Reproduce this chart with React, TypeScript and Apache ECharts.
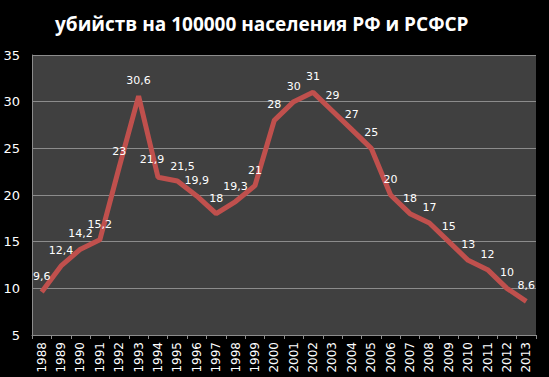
import React, { useEffect, useRef } from "react";
import * as echarts from "echarts";

const years = [
  "1988", "1989", "1990", "1991", "1992", "1993", "1994", "1995", "1996", "1997",
  "1998", "1999", "2000", "2001", "2002", "2003", "2004", "2005", "2006", "2007",
  "2008", "2009", "2010", "2011", "2012", "2013",
];
const murders = [
  9.6, 12.4, 14.2, 15.2, 23, 30.6, 21.9, 21.5, 19.9, 18,
  19.3, 21, 28, 30, 31, 29, 27, 25, 20, 18,
  17, 15, 13, 12, 10, 8.6,
];
const titleText = "убийств на 100000 населения РФ и РСФСР";

export default function App() {
  const ref = useRef<HTMLDivElement>(null);
  useEffect(() => {
    if (!ref.current) return;
    const chart = echarts.init(ref.current, null, { renderer: "svg" });
    const baseLabel = {
      show: true,
      position: "top",
      distance: 10,
      color: "#ffffff",
      fontFamily: "DejaVu Sans",
      fontSize: 11,
      formatter: (p: any) => String(p.value).replace(".", ","),
    };
    const seriesData = murders.map((v, i) => {
      if (years[i] === "1994")
        return {
          value: v,
          label: { ...baseLabel, position: [-6, -12], align: "center", verticalAlign: "bottom" },
        };
      if (years[i] === "1995")
        return {
          value: v,
          label: { ...baseLabel, position: [5, -9], align: "center", verticalAlign: "bottom" },
        };
      return { value: v };
    });
    chart.setOption({
      animation: false,
      backgroundColor: "#000000",
      title: {
        text: titleText,
        left: 50,
        top: 9,
        textStyle: {
          color: "#ffffff",
          fontFamily: "Open Sans",
          fontWeight: "bold",
          fontSize: 19,
        },
      },
      grid: {
        left: 32,
        right: 13,
        top: 55,
        bottom: 42,
        show: true,
        backgroundColor: "#404040",
        borderWidth: 0,
      },
      xAxis: {
        type: "category",
        data: years,
        boundaryGap: true,
        axisLine: { show: true, lineStyle: { color: "#8c8c8c", width: 1 } },
        axisTick: { show: true, length: 4, lineStyle: { color: "#8c8c8c" } },
        axisLabel: {
          rotate: 90,
          interval: 0,
          color: "#ffffff",
          fontFamily: "DejaVu Sans",
          fontSize: 12,
          margin: 7,
        },
      },
      yAxis: {
        type: "value",
        min: 5,
        max: 35,
        interval: 5,
        axisLine: { show: true, lineStyle: { color: "#8c8c8c", width: 1 } },
        axisTick: { show: false },
        splitLine: { show: true, lineStyle: { color: "#8c8c8c", width: 1 } },
        axisLabel: {
          color: "#ffffff",
          fontFamily: "DejaVu Sans",
          fontSize: 13,
          margin: 12,
        },
      },
      series: [
        {
          type: "line",
          data: seriesData,
          symbol: "circle",
          symbolSize: 0,
          showSymbol: true,
          lineStyle: { color: "#c0504d", width: 5 },
          itemStyle: { color: "#c0504d" },
          labelLayout: { hideOverlap: false },
          label: baseLabel,
        },
      ],
    });
    return () => chart.dispose();
  }, []);
  return (
    <div
      ref={ref}
      style={{ position: "fixed", left: 0, top: 0, width: 549, height: 377 }}
    />
  );
}
